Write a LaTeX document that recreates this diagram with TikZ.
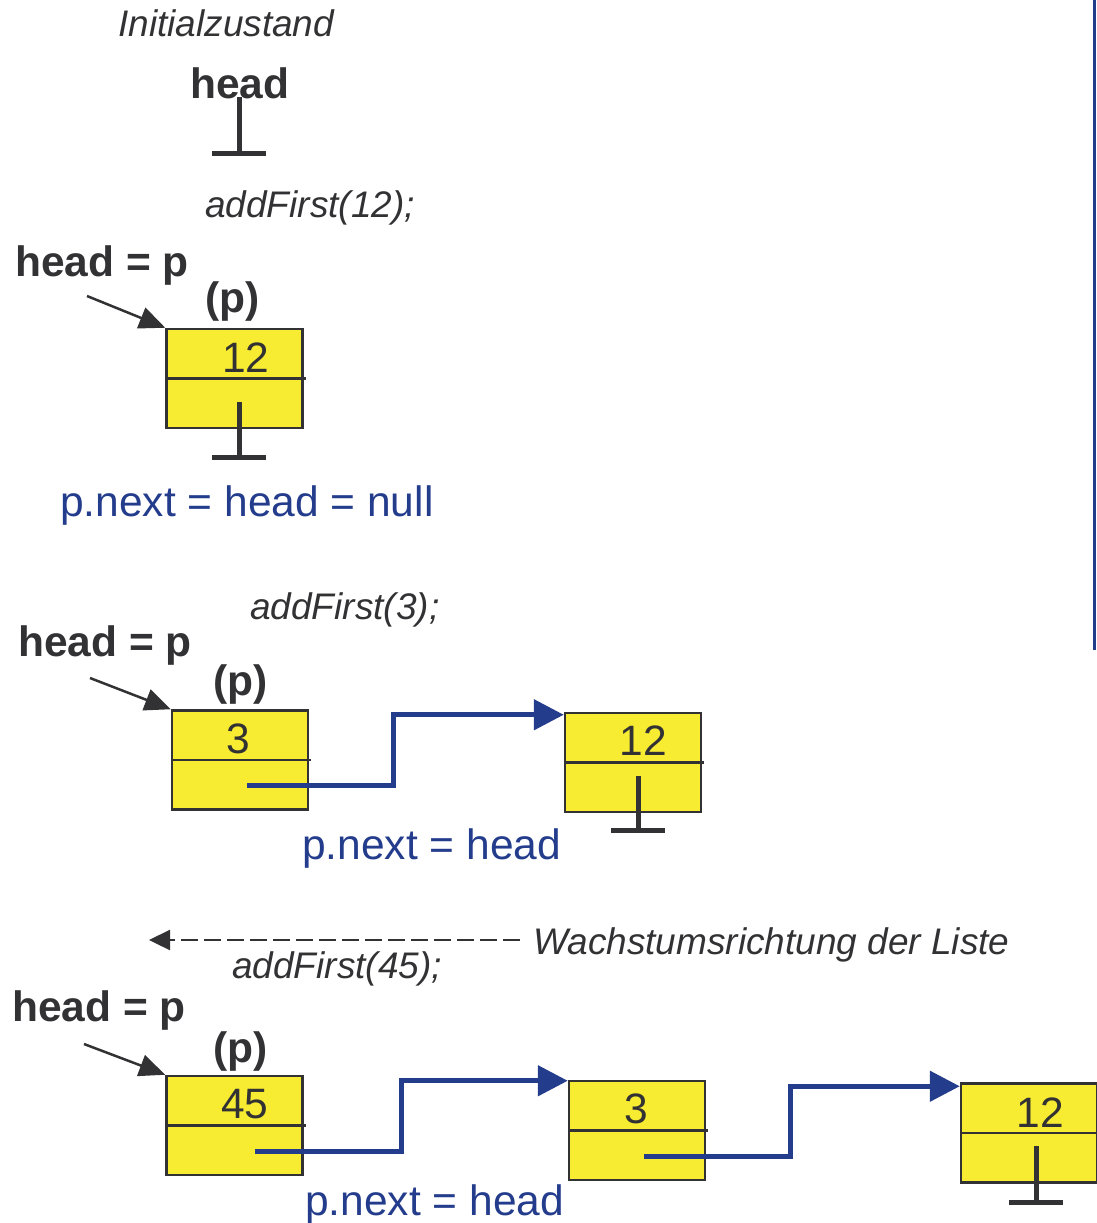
\documentclass[tikz,border=0pt]{standalone}
\usepackage{fontspec}
\setmainfont{Liberation Sans}
\usetikzlibrary{arrows.meta}
\definecolor{ink}{RGB}{50,50,52}
\definecolor{listblue}{RGB}{36,60,140}
\definecolor{boxyellow}{RGB}{247,236,50}

\begin{document}
\begin{tikzpicture}[x=1pt,y=-1pt]
                \tikzstyle{big}=[inner sep=0pt, text=ink, font=\fontsize{42.5}{48}\selectfont]
                \tikzstyle{bigbold}=[big, font=\fontsize{42.5}{48}\selectfont\bfseries]
                \tikzstyle{cmd}=[inner sep=0pt, text=ink, font=\fontsize{37}{44}\selectfont\itshape]
                \tikzstyle{code}=[inner sep=0pt, text=listblue, font=\fontsize{42.5}{48}\selectfont]
                \tikzstyle{listbox}=[draw=ink, line width=2.5pt, fill=boxyellow, minimum width=136pt, minimum height=99pt, inner sep=0pt]
                \tikzstyle{divider}=[draw=ink, line width=2.5pt]
                \tikzstyle{nullptr}=[draw=ink, line width=5pt]
                \tikzstyle{headptr}=[draw=ink, line width=2.5pt, -{Triangle[length=26pt,width=22pt]}]
                \tikzstyle{nextptr}=[draw=listblue, line width=5pt, -{Triangle[length=30pt,width=30pt]}]
                \tikzstyle{growth}=[draw=ink, line width=2.3pt, dash pattern=on 17pt off 6pt, -{Triangle[length=21pt,width=20pt]}]

                \useasboundingbox (0,0) rectangle (1097,1223);

                \coordinate (n0) at (239,97);
                \coordinate (h1) at (87,296);
                \coordinate (n1) at (239,402);
                \coordinate (h2) at (90,678);
                \coordinate (s2) at (247,785);
                \coordinate (n3) at (638,776);
                \coordinate (gstart) at (520,940);
                \coordinate (gend) at (149,940);
                \coordinate (h3) at (84,1044);
                \coordinate (s4) at (255,1151);
                \coordinate (s5) at (644,1156);
                \coordinate (n6) at (1036,1146);

                \draw[listblue, line width=3pt] (1094,0) -- (1094,650);

                \node[cmd, anchor=base west] (init) at (118,37) {Initialzustand};
                \node[bigbold, anchor=base west] (head0) at (190,98) {head};
                \draw[nullptr] (n0) -- ++(0,56) coordinate (n0b);
                \draw[nullptr] ([xshift=-27pt]n0b) -- ([xshift=27pt]n0b);
                \node[cmd, anchor=base west] (cmd12) at (205,217) {addFirst(12);};

                \node[bigbold, anchor=base west] (hp1) at (15,276) {head = p};
                \node[bigbold, anchor=base west] (p1) at (205,312) {(p)};
                \node[listbox] (k1) at (234.5,378.5) {};
                \draw[divider] (k1.west) -- ([xshift=2pt]k1.east);
                \node[big, anchor=base] (v1) at (246,372) {12};
                \draw[headptr] (h1) -- (k1.north west);
                \draw[nullptr] (n1) -- ++(0,55) coordinate (n1b);
                \draw[nullptr] ([xshift=-27pt]n1b) -- ([xshift=27pt]n1b);
                \node[code, anchor=base west] (c1) at (60,516) {p.next = head = null};

                \node[cmd, anchor=base west] (cmd3) at (250,619) {addFirst(3);};
                \node[bigbold, anchor=base west] (hp2) at (18,656) {head = p};
                \node[bigbold, anchor=base west] (p2) at (213,695) {(p)};
                \node[listbox] (k2) at (240,760) {};
                \node[listbox] (k3) at (633,762.5) {};
                \draw[divider] (k2.west) -- ([xshift=2pt]k2.east);
                \draw[divider] (k3.west) -- ([xshift=2pt]k3.east);
                \node[big, anchor=base] (v2) at (238,753) {3};
                \node[big, anchor=base] (v3) at (643,755) {12};
                \draw[headptr] (h2) -- (k2.north west);
                \draw[nextptr] (s2) -- ++(146,0) |- ([yshift=-3pt]k3.north west);
                \draw[nullptr] (n3) -- ++(0,54) coordinate (n3b);
                \draw[nullptr] ([xshift=-27pt]n3b) -- ([xshift=27pt]n3b);
                \node[code, anchor=base west] (c2) at (302,859) {p.next = head};

                \draw[growth] (gstart) -- (gend);
                \node[cmd, anchor=base west] (wachs) at (533,954) {Wachstumsrichtung der Liste};
                \node[cmd, anchor=base west] (cmd45) at (232,978) {addFirst(45);};
                \node[bigbold, anchor=base west] (hp3) at (12,1021) {head = p};
                \node[bigbold, anchor=base west] (p3) at (213,1062) {(p)};
                \node[listbox] (k4) at (234.5,1125.5) {};
                \node[listbox] (k5) at (637,1130.5) {};
                \node[listbox] (k6) at (1029,1133) {};
                \draw[divider] (k4.west) -- ([xshift=2pt]k4.east);
                \draw[divider] (k5.west) -- ([xshift=2pt]k5.east);
                \draw[divider] (k6.west) -- (k6.east);
                \node[big, anchor=base] (v4) at (245,1118) {45};
                \node[big, anchor=base] (v5) at (636,1123) {3};
                \node[big, anchor=base] (v6) at (1040,1127) {12};
                \draw[headptr] (h3) -- (k4.north west);
                \draw[nextptr] (s4) -- ++(146,0) |- ([yshift=-1pt]k5.north west);
                \draw[nextptr] (s5) -- ++(146,0) |- ([yshift=-4pt]k6.north west);
                \draw[nullptr] (n6) -- ++(0,56) coordinate (n6b);
                \draw[nullptr] ([xshift=-27pt]n6b) -- ([xshift=27pt]n6b);
                \node[code, anchor=base west] (c3) at (305,1215) {p.next = head};

\end{tikzpicture}
\end{document}
